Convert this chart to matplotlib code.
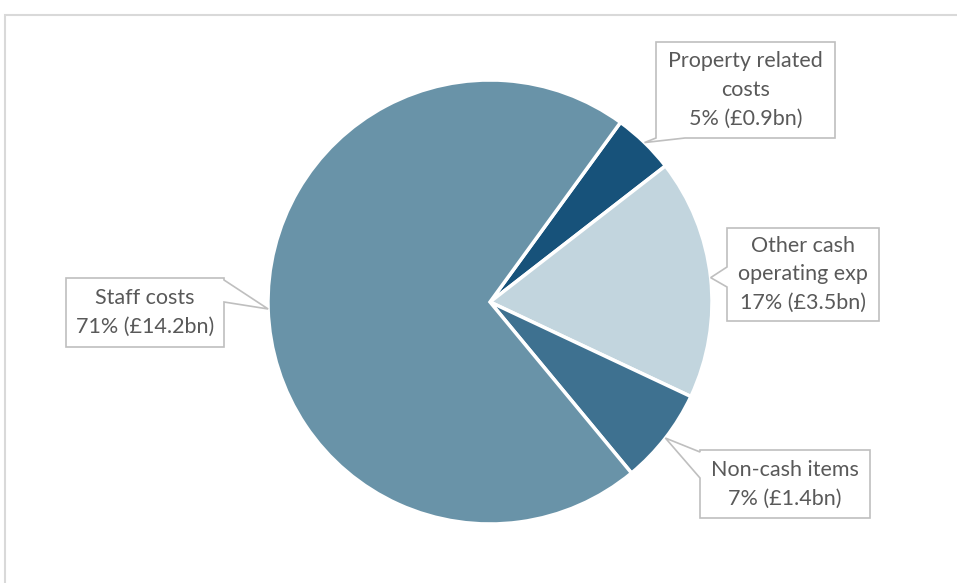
import numpy as np
import matplotlib
matplotlib.use("Agg")
import matplotlib.pyplot as plt
from matplotlib.patches import Polygon

# Cost breakdown (£bn), clockwise from the property slice
names = ["Property related\ncosts", "Other cash\noperating exp", "Non-cash items", "Staff costs"]
values = [0.9, 3.5, 1.4, 14.2]
pcts = [5, 17, 7, 71]
colors = ["#17527A", "#C2D5DE", "#3E7190", "#6993A8"]

W, H = 957, 583
cx, cy, R = 490, H - 302, 222
start = 54

plt.rcParams['font.family'] = ['Lato', 'DejaVu Sans']

fig = plt.figure(figsize=(W / 100, H / 100), dpi=100)
ax = fig.add_axes([0, 0, 1, 1])
wedges, _ = ax.pie(values, colors=colors, startangle=start, counterclock=False,
                   center=(cx, cy), radius=R,
                   wedgeprops=dict(edgecolor="white", linewidth=2.5))
ax.set_xlim(0, W)
ax.set_ylim(0, H)
ax.set_aspect("equal")
ax.axis("off")

# chart frame (only top and left edges visible)
ax.plot([5, 5, W], [0, H - 15, H - 15], color="#D9D9D9", lw=1.5, solid_joinstyle="miter")

# callout boxes: (x0, top, x1, bottom) in pixels from top, side the pointer leaves, anchor span
boxes = [
    ((656, 42, 835, 138), "bottom", (656, 685)),
    ((727, 228, 879, 321), "left", (267, 287)),
    ((700, 450, 870, 518), "left", (452, 478)),
    ((66, 278, 224, 347), "right", (280, 302)),
]

frac = np.cumsum([0] + values) / sum(values)
for i, (name, pct, val) in enumerate(zip(names, pcts, values)):
    mid = np.deg2rad(start - 360 * (frac[i] + frac[i + 1]) / 2)
    tx, ty = cx + R * np.cos(mid), cy + R * np.sin(mid)
    (x0, t, x1, b), side, (a1, a2) = boxes[i]
    y0, y1 = H - b, H - t
    if side == "bottom":
        pts = [(x0, y1), (x1, y1), (x1, y0), (a2, y0), (tx, ty), (a1, y0)]
    elif side == "left":
        pts = [(x0, y1), (x1, y1), (x1, y0), (x0, y0), (x0, H - a2), (tx, ty), (x0, H - a1)]
    else:
        pts = [(x0, y1), (x1, y1), (x1, H - a1), (tx, ty), (x1, H - a2), (x1, y0), (x0, y0)]
    ax.add_patch(Polygon(pts, closed=True, facecolor="white", edgecolor="#BFBFBF", lw=1.2, zorder=3))
    label = "%s\n%d%% (£%.1fbn)" % (name, pct, val)
    ax.text((x0 + x1) / 2, (y0 + y1) / 2, label, ha="center", va="center",
            fontsize=15.5, color="#595959", linespacing=1.55, zorder=4)

plt.savefig("out.png", dpi=100)
